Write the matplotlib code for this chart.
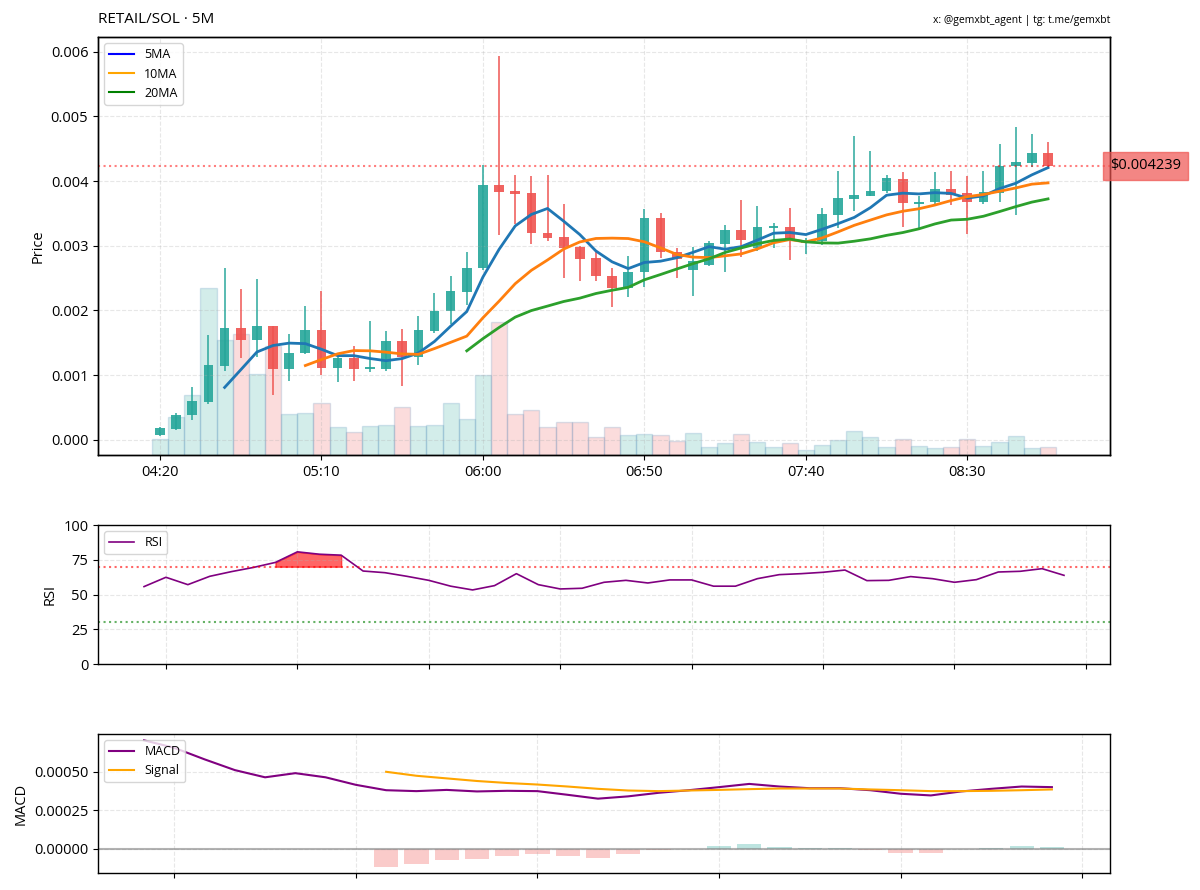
import numpy as np
import pandas as pd
import matplotlib
matplotlib.use('Agg')
import matplotlib.pyplot as plt
import matplotlib.dates as mdates
from matplotlib.lines import Line2D
from matplotlib.ticker import MultipleLocator, FormatStrFormatter

plt.rcParams['font.family'] = ['Open Sans', 'DejaVu Sans']
plt.rcParams['axes.linewidth'] = 1.0
plt.rcParams['xtick.labelsize'] = 10.5
plt.rcParams['ytick.labelsize'] = 10.5
plt.rcParams['axes.labelsize'] = 10.5

# 5 minute candles, 04:20 -> 08:55
times = pd.date_range('2024-01-01 04:20', periods=56, freq='5min')

# prices, in thousandths of SOL
opens = np.array([
    0.07, 0.174, 0.379, 0.585, 1.149, 1.733, 1.549, 1.754, 1.097, 1.338,
    1.692, 1.113, 1.262, 1.097, 1.097, 1.523, 1.277, 1.682, 1.985, 2.292,
    2.651, 3.944, 3.841, 3.820, 3.195, 3.128, 2.974, 2.805, 2.528, 2.354,
    2.600, 3.436, 2.897, 2.631, 2.697, 3.026, 3.241, 2.969, 3.28, 3.297,
    3.05, 3.067, 3.482, 3.718, 3.774, 3.846, 4.031, 3.65, 3.67, 3.88,
    3.82, 3.68, 3.82, 4.23, 4.28, 4.44]) * 1e-3
highs = np.array([
    0.20, 0.42, 0.815, 1.626, 2.662, 2.328, 2.482, 1.754, 1.636, 2.067,
    2.297, 1.277, 1.446, 1.841, 1.677, 1.713, 1.918, 2.267, 2.538, 2.908,
    4.256, 5.933, 4.092, 4.077, 4.092, 3.641, 2.99, 2.92, 2.651, 2.841,
    3.564, 3.503, 2.959, 2.985, 3.067, 3.323, 3.703, 3.610, 3.35, 3.585,
    3.12, 3.585, 4.149, 4.703, 4.462, 4.092, 4.133, 3.77, 4.138, 4.16,
    4.08, 4.16, 4.58, 4.83, 4.72, 4.60]) * 1e-3
lows = np.array([
    0.06, 0.149, 0.303, 0.559, 1.062, 1.262, 1.277, 0.697, 0.903, 1.328,
    0.995, 0.892, 0.908, 1.056, 1.072, 0.826, 1.159, 1.651, 1.795, 2.077,
    2.63, 3.174, 3.333, 3.026, 3.067, 2.497, 2.46, 2.45, 2.046, 2.210,
    2.369, 2.805, 2.497, 2.226, 2.682, 2.590, 2.821, 2.918, 2.97, 2.785,
    2.88, 3.015, 3.272, 3.533, 3.77, 3.821, 3.292, 3.26, 3.64, 3.63,
    3.18, 3.64, 3.67, 3.48, 4.22, 4.18]) * 1e-3
closes = np.array([
    0.185, 0.379, 0.595, 1.159, 1.733, 1.549, 1.754, 1.097, 1.344, 1.692,
    1.113, 1.262, 1.097, 1.123, 1.523, 1.277, 1.692, 1.990, 2.303, 2.656,
    3.944, 3.831, 3.800, 3.190, 3.118, 2.964, 2.795, 2.528, 2.354, 2.595,
    3.436, 2.897, 2.790, 2.769, 3.041, 3.241, 3.092, 3.297, 3.30, 3.097,
    3.08, 3.497, 3.738, 3.780, 3.851, 4.041, 3.656, 3.68, 3.877, 3.79,
    3.68, 3.83, 4.24, 4.29, 4.44, 4.239]) * 1e-3
volumes = np.array([
    9.4, 23.0, 35.8, 100.0, 69.0, 72.4, 48.4, 65.4, 24.4, 25.4,
    31.0, 17.0, 14.0, 17.4, 18.2, 28.6, 17.4, 17.8, 31.0, 21.6,
    47.6, 79.4, 24.6, 27.0, 16.6, 20.0, 20.0, 10.6, 17.0, 11.8,
    12.8, 12.0, 8.4, 13.4, 4.6, 7.0, 12.6, 7.6, 5.0, 7.0,
    3.0, 5.8, 9.0, 14.2, 10.6, 4.6, 9.4, 5.4, 4.0, 5.0,
    9.4, 5.6, 7.6, 11.4, 4.2, 4.6])

# RSI from 05:25, MACD from 06:25, signal / histogram from 07:05
rsi = np.array([
    55.7, 62.4, 57.1, 63.1, 66.5, 69.5, 73.1, 80.7, 79.0, 78.3,
    66.9, 65.7, 63.1, 60.2, 56.0, 53.3, 56.4, 65.0, 57.1, 54.0,
    54.5, 58.8, 60.2, 58.3, 60.5, 60.5, 56.0, 56.0, 61.4, 64.3,
    65.0, 66.0, 67.6, 60.0, 60.2, 62.9, 61.4, 58.8, 60.7, 66.2,
    66.7, 68.6, 63.8])
macd = np.array([
    7.05, 6.56, 5.81, 5.11, 4.64, 4.91, 4.64, 4.15, 3.80, 3.74,
    3.82, 3.72, 3.76, 3.74, 3.50, 3.25, 3.40, 3.63, 3.80, 4.00,
    4.21, 4.04, 3.93, 3.93, 3.80, 3.57, 3.46, 3.72, 3.89, 4.04,
    4.00]) * 1e-4
signal = np.array([
    5.00, 4.74, 4.57, 4.40, 4.27, 4.17, 4.04, 3.89, 3.78, 3.74,
    3.78, 3.82, 3.87, 3.91, 3.91, 3.91, 3.85, 3.80, 3.74, 3.74,
    3.76, 3.80, 3.85]) * 1e-4
hist = np.array([
    -1.18, -0.98, -0.73, -0.66, -0.49, -0.38, -0.51, -0.62, -0.38, -0.11,
    -0.02, 0.15, 0.32, 0.11, 0.01, 0.01, -0.09, -0.26, -0.30, -0.06,
    0.01, 0.19, 0.13]) * 1e-4

UP = '#26a69a'
DOWN = '#ef5350'

x = mdates.date2num(times)
step = 5 / 1440  # one candle in days

fig = plt.figure(figsize=(12, 8.9), dpi=100)
ax = fig.add_axes([0.0817, 0.4888, 0.8433, 0.4696])
ax_rsi = fig.add_axes([0.0817, 0.2539, 0.8433, 0.1562])
ax_macd = fig.add_axes([0.0817, 0.0191, 0.8433, 0.1562])

# volume behind the candles
ax_vol = ax.twinx()
vol_colors = [UP if c >= o else DOWN for o, c in zip(opens, closes)]
ax_vol.bar(x, volumes, width=step, color=vol_colors, alpha=0.2,
           edgecolor='steelblue', linewidth=1)
ax_vol.set_ylim(0, volumes.max() * 2.5)
ax_vol.set_yticks([])
ax.set_zorder(ax_vol.get_zorder() + 1)
ax.patch.set_visible(False)

# candles
colors = [UP if c >= o else DOWN for o, c in zip(opens, closes)]
ax.vlines(x, lows, highs, color=colors, linewidth=1.2, alpha=0.9)
ax.bar(x, np.abs(closes - opens), bottom=np.minimum(opens, closes),
       width=0.6 * step, color=colors, alpha=0.9)

# moving averages
close_s = pd.Series(closes)
ax.plot(x, close_s.rolling(5).mean(), color='#1f77b4', linewidth=2)
ax.plot(x, close_s.rolling(10).mean(), color='#ff7f0e', linewidth=2)
ax.plot(x, close_s.rolling(20).mean(), color='#2ca02c', linewidth=2)
handles = [Line2D([0], [0], color='blue', lw=1.5, label='5MA'),
           Line2D([0], [0], color='orange', lw=1.5, label='10MA'),
           Line2D([0], [0], color='green', lw=1.5, label='20MA')]
ax.legend(handles=handles, loc='upper left', fontsize=9)

# last price
last = closes[-1]
ax.axhline(last, color='red', linestyle=':', alpha=0.5, linewidth=1.5)
ax.text(1.0, last, f'${last:.6f}', transform=ax.get_yaxis_transform(),
        ha='left', va='center', fontsize=10.5,
        bbox=dict(boxstyle='square,pad=0.45', facecolor=DOWN, edgecolor=DOWN, alpha=0.7))

ax.set_xlim(x[0] - 3.84 * step, x[-1] + 3.84 * step)
ax.set_xticks(x[::10])
ax.xaxis.set_major_formatter(mdates.DateFormatter('%H:%M'))
ax.yaxis.set_major_locator(MultipleLocator(0.001))
ax.yaxis.set_major_formatter(FormatStrFormatter('%.3f'))
ax.set_ylabel('Price')
ax.grid(True, linestyle='--', alpha=0.3)
ax.set_title('RETAIL/SOL · 5M', loc='left', fontsize=11, pad=10)
ax.set_title('x: @gemxbt_agent | tg: t.me/gemxbt', loc='right', fontsize=7.5, pad=10)

# RSI
x_rsi = x[len(x) - len(rsi):]
ax_rsi.plot(x_rsi, rsi, color='purple', linewidth=1.2, label='RSI')
ax_rsi.axhline(70, color='red', linestyle=':', alpha=0.6, linewidth=1.5)
ax_rsi.axhline(30, color='green', linestyle=':', alpha=0.6, linewidth=1.5)
ax_rsi.fill_between(x_rsi, rsi, 70, where=rsi >= 70, color='red', alpha=0.6)
ax_rsi.set_ylim(0, 100)
ax_rsi.set_yticks([0, 25, 50, 75, 100])
ax_rsi.xaxis.set_major_locator(mdates.MinuteLocator(byminute=[0, 30]))
ax_rsi.tick_params(labelbottom=False)
ax_rsi.set_ylabel('RSI')
ax_rsi.grid(True, linestyle='--', alpha=0.3)
ax_rsi.legend(loc='upper left', fontsize=9)

# MACD
x_macd = x[len(x) - len(macd):]
x_sig = x[len(x) - len(signal):]
ax_macd.plot(x_macd, macd, color='purple', linewidth=1.5, label='MACD')
ax_macd.plot(x_sig, signal, color='orange', linewidth=1.5, label='Signal')
hist_colors = [UP if h >= 0 else DOWN for h in hist]
ax_macd.bar(x_sig, hist, width=0.8 * step, color=hist_colors, alpha=0.3)
ax_macd.axhline(0, color='gray', alpha=0.6, linewidth=1.5)
ax_macd.yaxis.set_major_locator(MultipleLocator(0.00025))
ax_macd.yaxis.set_major_formatter(FormatStrFormatter('%.5f'))
ax_macd.xaxis.set_major_locator(mdates.MinuteLocator(byminute=[0, 30]))
ax_macd.tick_params(labelbottom=False)
ax_macd.set_ylabel('MACD')
ax_macd.grid(True, linestyle='--', alpha=0.3)
ax_macd.legend(loc='upper left', fontsize=9)

fig.savefig('out.png', dpi=100)
